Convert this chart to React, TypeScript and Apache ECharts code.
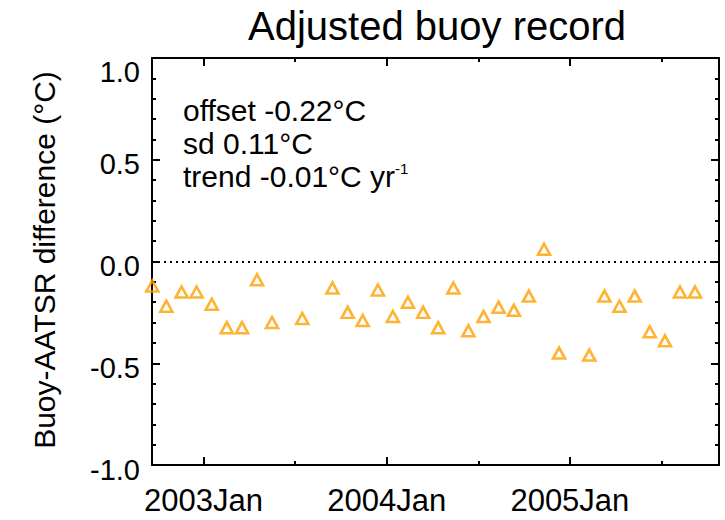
import React, { useEffect, useRef } from "react";
import * as echarts from "echarts";

// Monthly buoy minus AATSR differences, x in decimal years
const sampleYears = [
  2002.72, 2002.797, 2002.88, 2002.962, 2003.045, 2003.127, 2003.21, 2003.292,
  2003.374, 2003.539, 2003.704, 2003.787, 2003.869, 2003.952, 2004.034,
  2004.116, 2004.199, 2004.281, 2004.364, 2004.446, 2004.529, 2004.611,
  2004.694, 2004.776, 2004.859, 2004.941, 2005.106, 2005.189, 2005.271,
  2005.354, 2005.436, 2005.519, 2005.601, 2005.683,
];
const buoyMinusAatsr = [
  -0.12, -0.22, -0.15, -0.15, -0.21, -0.325, -0.325, -0.09,
  -0.3, -0.28, -0.13, -0.25, -0.29, -0.14, -0.27,
  -0.2, -0.25, -0.325, -0.13, -0.34, -0.27, -0.225,
  -0.24, -0.17, 0.06, -0.45, -0.46, -0.17, -0.22,
  -0.17, -0.345, -0.39, -0.15, -0.15,
];

const yearTicks = [2003, 2004, 2005];
const halfYearTicks = [2003.5, 2004.5, 2005.5];
const xRange = [2002.7186, 2005.8142];
const yRange = [-1, 1];

const offsetC = -0.22;
const sdC = 0.11;
const trendCPerYr = -0.01;

const FONT = "'Liberation Sans', Arial, Helvetica, sans-serif";
const INK = "#000000";
const MARK = "#FFA000";

function App() {
  const ref = useRef<HTMLDivElement | null>(null);

  useEffect(() => {
    if (!ref.current) return;
    const chart = echarts.init(ref.current, undefined, { renderer: "svg" });

    const frameLine = { show: true, onZero: false, lineStyle: { color: INK, width: 2 } };
    const tickSet = (values: number[] | undefined, len: number) => ({
      show: true,
      inside: true,
      length: len,
      lineStyle: { color: INK, width: 2 },
      ...(values ? { customValues: values } : {}),
    });

    const xBase = {
      type: "value" as const,
      min: xRange[0],
      max: xRange[1],
      splitLine: { show: false },
    };
    const yBase = {
      type: "value" as const,
      min: yRange[0],
      max: yRange[1],
      interval: 0.5,
      splitLine: { show: false },
      minorSplitLine: { show: false },
      minorTick: {
        show: true,
        splitNumber: 5,
        length: 4,
        lineStyle: { color: INK, width: 2 },
      },
    };

    const fmt = (v: number) => v.toFixed(2);
    const textStyle = (size: number) => ({
      fontFamily: FONT,
      fontSize: size,
      fill: INK,
    });

    chart.setOption({
      animation: false,
      grid: { left: 152, top: 58, width: 567, height: 407, containLabel: false },
      xAxis: [
        {
          ...xBase,
          position: "bottom",
          axisLine: frameLine,
          axisTick: tickSet(yearTicks, 8),
          axisLabel: {
            show: true,
            customValues: yearTicks,
            formatter: (v: number) => `${Math.round(v)}Jan`,
            color: INK,
            fontFamily: FONT,
            fontSize: 31,
            margin: 20,
          },
        },
        {
          ...xBase,
          position: "top",
          axisLine: frameLine,
          axisTick: tickSet(yearTicks, 8),
          axisLabel: { show: false },
        },
        {
          ...xBase,
          position: "bottom",
          axisLine: { show: false, onZero: false },
          axisTick: tickSet(halfYearTicks, 4),
          axisLabel: { show: false },
        },
        {
          ...xBase,
          position: "top",
          axisLine: { show: false, onZero: false },
          axisTick: tickSet(halfYearTicks, 4),
          axisLabel: { show: false },
        },
      ],
      yAxis: [
        {
          ...yBase,
          position: "left",
          axisLine: frameLine,
          axisTick: tickSet(undefined, 8),
          axisLabel: {
            show: true,
            color: INK,
            fontFamily: FONT,
            fontSize: 29,
            margin: 12,
            formatter: (v: number) =>
              v === yRange[1] ? `{top|${v.toFixed(1)}}` : `{n|${v.toFixed(1)}}`,
            rich: {
              n: { fontFamily: FONT, fontSize: 29, color: INK, padding: [9, 0, 0, 0] },
              top: { fontFamily: FONT, fontSize: 29, color: INK, padding: [28, 0, 0, 0] },
            },
          },
        },
        {
          ...yBase,
          position: "right",
          axisLine: frameLine,
          axisTick: tickSet(undefined, 8),
          axisLabel: { show: false },
        },
      ],
      graphic: [
        {
          type: "text",
          x: 437,
          y: 26,
          style: {
            ...textStyle(40),
            text: "Adjusted buoy record",
            align: "center",
            verticalAlign: "middle",
          },
        },
        {
          type: "text",
          x: 44,
          y: 260,
          rotation: Math.PI / 2,
          style: {
            ...textStyle(30),
            text: "Buoy-AATSR difference (°C)",
            align: "center",
            verticalAlign: "middle",
          },
        },
        {
          type: "text",
          x: 183,
          y: 110,
          style: {
            ...textStyle(30),
            text: `offset ${fmt(offsetC)}°C`,
            align: "left",
            verticalAlign: "middle",
          },
        },
        {
          type: "text",
          x: 183,
          y: 143,
          style: {
            ...textStyle(30),
            text: `sd ${fmt(sdC)}°C`,
            align: "left",
            verticalAlign: "middle",
          },
        },
        {
          type: "text",
          x: 183,
          y: 176,
          style: {
            ...textStyle(30),
            text: `{n|trend ${fmt(trendCPerYr)}°C yr}{sup|-1}`,
            align: "left",
            verticalAlign: "middle",
            rich: {
              n: textStyle(30),
              sup: { ...textStyle(15), verticalAlign: "top" },
            },
          },
        },
      ],
      series: [
        {
          type: "scatter",
          xAxisIndex: 0,
          yAxisIndex: 0,
          data: sampleYears.map((t, i) => [t, buoyMinusAatsr[i]]),
          symbol: "triangle",
          symbolSize: [12, 11],
          itemStyle: { color: "rgba(0,0,0,0)", borderColor: MARK, borderWidth: 2.6 },
          clip: false,
          silent: true,
          markLine: {
            silent: true,
            symbol: ["none", "none"],
            label: { show: false },
            lineStyle: { color: INK, width: 2, type: [2, 4] },
            data: [{ yAxis: 0 }],
          },
        },
      ],
    });

    return () => chart.dispose();
  }, []);

  return (
    <div
      ref={ref}
      style={{ position: "fixed", left: 0, top: 0, width: 725, height: 520, background: "#fff" }}
    />
  );
}

export default App;
